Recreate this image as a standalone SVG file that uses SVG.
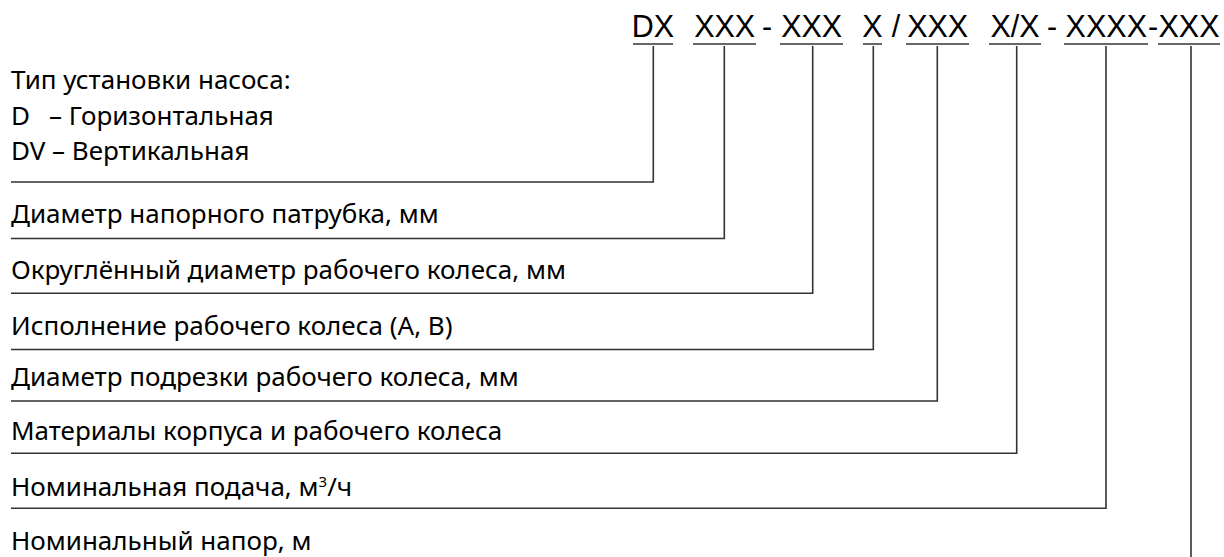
<svg xmlns="http://www.w3.org/2000/svg" width="1224" height="557" viewBox="0 0 1224 557">
  <style>
    .code { font-family: "Liberation Sans", Arial, sans-serif; font-size: 30.5px; fill: #000; text-anchor: middle; }
    .label { font-family: "Noto Sans", "Open Sans", sans-serif; font-size: 26px; fill: #000; }
    .uline { stroke: #666; stroke-width: 2; fill: none; }
    .lead { stroke: #333; stroke-width: 1.6; fill: none; }
  </style>
  <rect width="1224" height="557" fill="#fff"/>

  <!-- designation code -->
  <g id="code">
    <text class="code" x="653" y="37">DX</text>
    <text class="code" x="724.7" y="37">XXX</text>
    <text class="code" x="767" y="37">-</text>
    <text class="code" x="811.7" y="37">XXX</text>
    <text class="code" x="872.5" y="37">X</text>
    <text class="code" x="896" y="37">/</text>
    <text class="code" x="937.7" y="37">XXX</text>
    <text class="code" x="1015" y="37">X/X</text>
    <text class="code" x="1052" y="37">-</text>
    <text class="code" x="1106.3" y="37">XXXX</text>
    <text class="code" x="1153" y="37">-</text>
    <text class="code" x="1189" y="37">XXX</text>
    <line class="uline" x1="633" y1="44" x2="673" y2="44"/>
    <line class="uline" x1="693" y1="44" x2="756" y2="44"/>
    <line class="uline" x1="780" y1="44" x2="843" y2="44"/>
    <line class="uline" x1="863" y1="44" x2="882" y2="44"/>
    <line class="uline" x1="906" y1="44" x2="969" y2="44"/>
    <line class="uline" x1="989" y1="44" x2="1041" y2="44"/>
    <line class="uline" x1="1064" y1="44" x2="1148" y2="44"/>
    <line class="uline" x1="1158" y1="44" x2="1220" y2="44"/>
  </g>

  <!-- field descriptions -->
  <g id="n-type">
    <text class="label" x="11" y="89">Тип установки насоса:</text>
    <text class="label" x="11" y="125">D<tspan x="49">– Горизонтальная</tspan></text>
    <text class="label" x="11" y="160">DV – Вертикальная</text>
  </g>
  <g id="n-outlet"><text class="label" x="11" y="223">Диаметр напорного патрубка, мм</text></g>
  <g id="n-impeller-dia"><text class="label" x="11" y="279">Округлённый диаметр рабочего колеса, мм</text></g>
  <g id="n-impeller-ver"><text class="label" x="11" y="335">Исполнение рабочего колеса (A, B)</text></g>
  <g id="n-trim"><text class="label" x="11" y="386">Диаметр подрезки рабочего колеса, мм</text></g>
  <g id="n-material"><text class="label" x="11" y="440">Материалы корпуса и рабочего колеса</text></g>
  <g id="n-flow"><text class="label" x="11" y="496">Номинальная подача, м<tspan dy="-9" font-size="15">3</tspan><tspan dy="9">/ч</tspan></text></g>
  <g id="n-head"><text class="label" x="11" y="550">Номинальный напор, м</text></g>

  <!-- leader lines -->
  <g id="connectors">
    <polyline class="lead" points="653.3,46 653.3,182 11,182"/>
    <polyline class="lead" points="724.3,46 724.3,238.5 11,238.5"/>
    <polyline class="lead" points="812.7,46 812.7,293.3 11,293.3"/>
    <polyline class="lead" points="873.3,46 873.3,349.5 11,349.5"/>
    <polyline class="lead" points="937.3,46 937.3,401 11,401"/>
    <polyline class="lead" points="1016.7,46 1016.7,453.3 11,453.3"/>
    <polyline class="lead" points="1106,46 1106,508.3 11,508.3"/>
    <polyline class="lead" points="1191,46 1191,557"/>
  </g>
</svg>
